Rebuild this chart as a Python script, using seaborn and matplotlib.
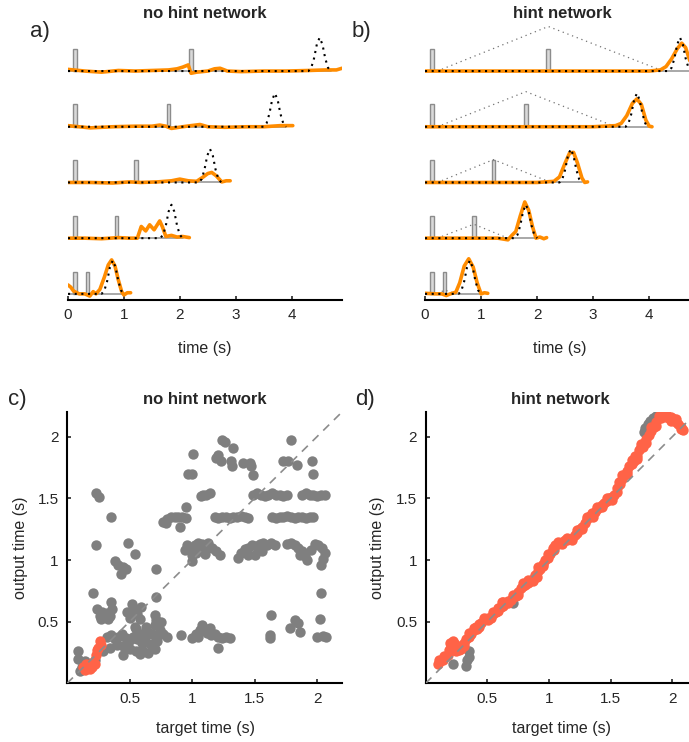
import seaborn as sns
import matplotlib.pyplot as plt

# ---------------- data ----------------
# trials (top to bottom), times in s
pulse1 = 0.12
pulse2 = [2.2, 1.8, 1.22, 0.87, 0.35]
target_peak_a = [4.5, 3.7, 2.54, 1.85, 0.8]
target_peak_b = [4.55, 3.78, 2.6, 1.8, 0.8]
# target bump profile (offset from peak, relative height)
bump_dt = [-0.2, -0.15, -0.1, -0.05, 0.0, 0.05, 0.1, 0.15, 0.2]
bump_h = [0.0, 0.1, 0.38, 0.8, 1.0, 0.8, 0.38, 0.1, 0.0]
target_amp = 0.6
pulse_h = 0.4

# hint signal (panel b): apex height at pulse2, end time
hint_start = 0.22
hint_apex = [0.8, 0.63, 0.41, 0.25, 0.07]
hint_end = [4.25, 3.4, 2.25, 1.48, 0.55]

# network outputs, panel a (no hint)
a_out_t = [
    [0, 0.3, 0.6, 0.9, 1.2, 1.5, 1.8, 1.95, 2.05, 2.15, 2.2, 2.3, 2.5, 2.62, 2.72, 2.85, 3.1, 3.5, 3.9, 4.3, 4.6, 4.8, 4.9],
    [0, 0.4, 0.8, 1.2, 1.5, 1.64, 1.75, 1.85, 2.05, 2.2, 2.36, 2.5, 2.8, 3.2, 3.5, 3.8, 4.02],
    [0, 0.4, 0.8, 1.1, 1.3, 1.6, 1.85, 2.0, 2.15, 2.3, 2.42, 2.5, 2.57, 2.65, 2.75, 2.83, 2.9],
    [0, 0.3, 0.6, 0.9, 1.1, 1.24, 1.31, 1.39, 1.46, 1.54, 1.64, 1.69, 1.75, 1.85, 1.95, 2.05, 2.17],
    [0, 0.05, 0.1, 0.2, 0.3, 0.39, 0.45, 0.5, 0.57, 0.65, 0.72, 0.78, 0.84, 0.9, 0.96, 1.0, 1.06, 1.12],
]
a_out_y = [
    [0.03, 0.0, -0.02, 0.01, 0.0, 0.01, 0.02, 0.04, 0.07, 0.11, -0.04, -0.02, 0.0, 0.04, 0.05, 0.0, -0.01, 0.0, 0.0, 0.01, 0.02, 0.02, 0.05],
    [0.02, -0.02, 0.0, 0.01, 0.01, 0.03, 0.01, -0.03, 0.0, 0.02, 0.04, 0.0, -0.01, 0.0, 0.0, 0.02, 0.02],
    [0.0, 0.0, -0.01, 0.01, 0.0, 0.01, 0.03, 0.06, 0.03, 0.02, 0.1, 0.16, 0.18, 0.12, 0.01, 0.03, 0.03],
    [0.0, 0.0, -0.01, 0.01, 0.0, 0.0, 0.21, 0.13, 0.24, 0.15, 0.31, 0.2, 0.03, 0.05, 0.02, 0.03, 0.01],
    [0.16, 0.12, 0.05, 0.0, 0.0, -0.04, 0.04, 0.0, 0.08, 0.3, 0.52, 0.61, 0.5, 0.25, 0.04, -0.02, 0.02, 0.02],
]

# network outputs, panel b (hint)
b_out_t = [
    [0, 0.5, 1.0, 1.5, 2.0, 2.5, 3.0, 3.5, 4.0, 4.2, 4.3, 4.4, 4.5, 4.58, 4.65, 4.72, 4.78],
    [0, 0.5, 1.0, 1.5, 2.0, 2.5, 3.0, 3.4, 3.5, 3.6, 3.7, 3.78, 3.86, 3.94, 4.0, 4.05],
    [0, 0.5, 1.0, 1.5, 2.0, 2.3, 2.4, 2.5, 2.58, 2.65, 2.72, 2.8, 2.85, 2.9],
    [0, 0.5, 1.0, 1.3, 1.48, 1.55, 1.62, 1.7, 1.78, 1.85, 1.92, 1.98, 2.05, 2.12, 2.17],
    [0, 0.2, 0.3, 0.38, 0.45, 0.55, 0.62, 0.7, 0.78, 0.86, 0.93, 1.0, 1.06, 1.12],
]
b_out_y = [
    [0, 0, 0, 0, 0, 0, 0, 0, 0.0, 0.02, 0.08, 0.22, 0.4, 0.5, 0.42, 0.2, 0.05],
    [0, 0, 0, 0, 0, 0, 0, 0.02, 0.06, 0.2, 0.42, 0.5, 0.4, 0.12, 0.01, 0.0],
    [0, 0, 0, 0, 0, 0.02, 0.1, 0.35, 0.53, 0.54, 0.35, 0.08, 0.0, 0.01],
    [0, 0, 0, 0, -0.03, 0.05, 0.12, 0.4, 0.65, 0.5, 0.2, 0.0, 0.02, -0.01, 0.01],
    [0.01, 0.0, 0.0, -0.03, 0.0, 0.03, 0.2, 0.5, 0.63, 0.48, 0.2, 0.0, 0.02, 0.01],
]

# scatter, panel c (no hint): target time vs output time
c_gray_x = [
    1.24, 1.26, 1.33, 1.79, 1.01, 1.19, 1.21, 1.23, 1.31, 1.32, 1.41, 1.46, 1.47, 1.49, 1.73, 1.77, 1.84, 1.96, 1.97, 0.97, 1.0,
    0.235, 0.256, 1.075, 1.09, 1.115, 1.14,
    1.49, 1.52, 1.55, 1.58, 1.61, 1.64, 1.67, 1.70, 1.73, 1.76,
    1.88, 1.91, 1.94, 1.97, 2.0, 2.03, 2.06,
    0.95, 0.355, 0.77, 0.8, 0.83, 0.86, 0.89, 0.92, 0.95, 0.79, 0.90,
    1.18, 1.21, 1.24, 1.27, 1.30, 1.33, 1.36, 1.39, 1.42, 1.45,
    1.64, 1.67, 1.70, 1.73, 1.76, 1.79, 1.82, 1.85, 1.88, 1.91, 1.94, 1.97,
    0.235, 0.49, 0.54, 0.38, 0.41, 0.45, 0.435, 0.47, 0.71,
    0.94, 0.96, 0.99, 1.02, 1.05, 1.08, 1.11, 1.13, 1.16, 1.19, 1.0, 1.03, 1.06, 1.1, 1.0, 1.22,
    1.37, 1.39, 1.42, 1.45, 1.48, 1.51, 1.54, 1.57, 1.6, 1.63, 1.66, 1.5, 1.45, 1.56,
    1.76, 1.79, 1.82, 1.85, 1.88, 1.9, 1.92, 1.95, 1.98, 2.01, 2.04, 2.06, 2.05, 2.03, 1.86,
    0.21, 0.715, 0.355,
    0.24, 0.26, 0.28, 0.3, 0.32, 0.34, 0.36, 0.27, 0.33,
    0.48, 0.5, 0.53, 0.56, 0.59, 0.58, 0.52,
    0.70, 0.715, 0.54,
    2.035, 1.635, 1.82, 1.85, 1.78, 1.86, 1.62, 1.62, 2.02, 2.0, 2.05, 2.075,
    0.915,
    1.0, 1.03, 1.06, 1.08, 1.1, 1.12, 1.15, 1.18, 1.21, 1.24, 1.27, 1.3, 1.05, 1.14,
    1.21,
    0.32, 0.35, 0.38, 0.41, 0.44, 0.47, 0.5, 0.53, 0.56, 0.59, 0.62, 0.65, 0.68, 0.71, 0.74, 0.77, 0.8,
    0.45, 0.5, 0.55, 0.6, 0.65, 0.7, 0.6, 0.66, 0.72, 0.55, 0.63, 0.7, 0.75, 0.4, 0.45, 0.58,
    0.09, 0.09, 0.14, 0.19, 0.22, 0.12, 0.1, 0.29, 0.34,
]
c_gray_y = [
    1.97, 1.96, 1.91, 1.97, 1.86, 1.83, 1.85, 1.80, 1.80, 1.76, 1.79, 1.79, 1.76, 1.69, 1.80, 1.80, 1.77, 1.80, 1.70, 1.70, 1.70,
    1.54, 1.51, 1.52, 1.53, 1.53, 1.54,
    1.53, 1.54, 1.53, 1.52, 1.53, 1.54, 1.53, 1.53, 1.52, 1.53,
    1.53, 1.54, 1.53, 1.53, 1.52, 1.53, 1.53,
    1.43, 1.35, 1.31, 1.33, 1.35, 1.35, 1.35, 1.35, 1.34, 1.30, 1.27,
    1.35, 1.34, 1.35, 1.35, 1.34, 1.35, 1.35, 1.36, 1.35, 1.34,
    1.35, 1.34, 1.35, 1.35, 1.36, 1.35, 1.34, 1.35, 1.35, 1.34, 1.35, 1.35,
    1.12, 1.14, 1.05, 0.99, 0.96, 0.94, 0.89, 0.925, 0.925,
    1.08, 1.12, 1.10, 1.12, 1.14, 1.13, 1.12, 1.14, 1.10, 1.07, 1.04, 1.06, 1.08, 1.05, 0.99, 1.04,
    1.02, 1.06, 1.09, 1.10, 1.12, 1.11, 1.13, 1.14, 1.12, 1.14, 1.12, 1.04, 1.04, 1.07,
    1.13, 1.14, 1.12, 1.10, 1.07, 1.03, 1.0, 1.08, 1.13, 1.12, 1.10, 1.06, 1.01, 0.96, 1.04,
    0.73, 0.70, 0.66,
    0.60, 0.55, 0.58, 0.54, 0.57, 0.55, 0.60, 0.52, 0.52,
    0.58, 0.53, 0.60, 0.56, 0.62, 0.52, 0.64,
    0.555, 0.51, 0.46,
    0.735, 0.555, 0.51, 0.49, 0.45, 0.42, 0.39, 0.37, 0.52, 0.38, 0.385, 0.375,
    0.39,
    0.37, 0.40, 0.43, 0.47, 0.44, 0.41, 0.39, 0.40, 0.38, 0.37, 0.38, 0.37, 0.38, 0.45,
    0.285,
    0.38, 0.39, 0.36, 0.38, 0.40, 0.37, 0.35, 0.38, 0.36, 0.40, 0.38, 0.42, 0.40, 0.38, 0.43, 0.40, 0.38,
    0.30, 0.28, 0.26, 0.27, 0.25, 0.28, 0.33, 0.32, 0.34, 0.44, 0.46, 0.47, 0.50, 0.31, 0.23, 0.24,
    0.26, 0.20, 0.18, 0.15, 0.19, 0.13, 0.10, 0.26, 0.29,
]
c_red_x = [0.26, 0.27, 0.25, 0.24, 0.23, 0.15, 0.17, 0.19, 0.21, 0.13, 0.18, 0.22, 0.14, 0.2]
c_red_y = [0.34, 0.31, 0.29, 0.27, 0.23, 0.16, 0.14, 0.15, 0.17, 0.13, 0.12, 0.16, 0.11, 0.13]

# scatter, panel d (hint)
d_gray_x = [1.78, 1.8, 1.82, 1.84, 1.87, 1.89, 1.77, 0.35, 0.35, 0.33, 0.225, 0.705, 0.34]
d_gray_y = [2.07, 2.1, 2.13, 2.15, 2.17, 2.16, 2.04, 0.26, 0.21, 0.14, 0.16, 0.65, 0.19]
d_red_x = [
    0.10, 0.12, 0.14, 0.16, 0.18, 0.20, 0.21, 0.23, 0.25, 0.27, 0.29, 0.31, 0.33, 0.35, 0.37, 0.39,
    0.41, 0.43, 0.45, 0.47, 0.49, 0.51, 0.53, 0.55, 0.57, 0.59, 0.61, 0.63, 0.65, 0.67, 0.69, 0.71,
    0.73, 0.75, 0.77, 0.79, 0.81, 0.83, 0.85, 0.87, 0.89, 0.91, 0.93, 0.95, 0.97, 0.99, 1.01, 1.03,
    1.05, 1.07, 1.09, 1.11, 1.13, 1.15, 1.17, 1.19, 1.21, 1.23, 1.25, 1.27, 1.29, 1.31, 1.33, 1.35,
    1.37, 1.39, 1.41, 1.43, 1.45, 1.47, 1.49, 1.51, 1.53, 1.55, 1.57, 1.59, 1.61, 1.63, 1.65, 1.67,
    1.69, 1.71, 1.73, 1.75, 1.77, 1.79, 1.81, 1.83, 1.85, 1.87, 1.89, 1.91, 1.93, 1.95, 1.97, 1.99,
    2.01, 2.03, 2.05, 2.07, 2.09,
    0.2, 0.22, 0.42, 0.62, 0.9, 1.04, 1.36, 1.58, 1.7, 1.76,
]
d_red_y = [
    0.16, 0.18, 0.19, 0.21, 0.23, 0.26, 0.31, 0.29, 0.26, 0.27, 0.28, 0.30, 0.36, 0.41, 0.40, 0.43,
    0.46, 0.48, 0.49, 0.51, 0.52, 0.53, 0.53, 0.56, 0.58, 0.61, 0.62, 0.63, 0.65, 0.67, 0.68, 0.70,
    0.71, 0.74, 0.77, 0.79, 0.80, 0.81, 0.83, 0.85, 0.88, 0.91, 0.93, 0.97, 1.00, 1.02, 1.05, 1.10,
    1.12, 1.13, 1.14, 1.15, 1.16, 1.16, 1.17, 1.18, 1.20, 1.22, 1.25, 1.27, 1.30, 1.33, 1.36, 1.38,
    1.39, 1.41, 1.43, 1.45, 1.46, 1.48, 1.50, 1.51, 1.53, 1.58, 1.63, 1.66, 1.69, 1.72, 1.76, 1.78,
    1.80, 1.84, 1.89, 1.92, 1.95, 1.98, 2.01, 2.05, 2.08, 2.12, 2.17, 2.18, 2.17, 2.16, 2.15, 2.16,
    2.14, 2.12, 2.10, 2.08, 2.055,
    0.33, 0.34, 0.44, 0.66, 0.86, 1.08, 1.35, 1.62, 1.84, 1.92,
]
# second row of hint-network points (edges of the thick band)
d_band_x = [
    0.11, 0.15, 0.19, 0.23, 0.27, 0.31, 0.35, 0.39, 0.43, 0.47, 0.51, 0.55, 0.59, 0.63, 0.67, 0.71,
    0.75, 0.79, 0.83, 0.87, 0.91, 0.95, 0.99, 1.03, 1.07, 1.11, 1.15, 1.19, 1.23, 1.27, 1.31, 1.35,
    1.39, 1.43, 1.47, 1.51, 1.55, 1.59, 1.63, 1.67, 1.71, 1.75, 1.79, 1.83, 1.87, 1.91, 1.95, 1.99,
    2.03, 2.07,
]
d_band_y = [
    0.19, 0.22, 0.27, 0.33, 0.30, 0.33, 0.38, 0.45, 0.46, 0.53, 0.51, 0.58, 0.59, 0.66, 0.65, 0.72,
    0.72, 0.81, 0.84, 0.83, 0.94, 0.95, 1.05, 1.08, 1.15, 1.13, 1.18, 1.16, 1.24, 1.25, 1.35, 1.36,
    1.43, 1.43, 1.50, 1.49, 1.55, 1.69, 1.70, 1.81, 1.82, 1.94, 1.95, 2.08, 2.09, 2.15, 2.18, 2.13,
    2.14, 2.06,
]

# ---------------- style ----------------
sns.set_theme(style="white")
plt.rcParams["font.family"] = ["Liberation Sans", "DejaVu Sans"]
plt.rcParams["axes.linewidth"] = 1.5
TXT = "#262626"
ORANGE = "#ff8c00"
GRAY_DOT = "#7f7f7f"
RED_DOT = "#ff6347"
DOT_S = 56

fig = plt.figure(figsize=(6.89, 7.42), dpi=100)
W, H = 689.0, 742.0


def px_axes(left, top, right, bottom):
    return fig.add_axes([left / W, 1 - bottom / H, (right - left) / W, (bottom - top) / H])


ax_a = px_axes(68, 23.7, 342, 300)
ax_b = px_axes(425, 23.7, 689, 300)
ax_c = px_axes(67, 412, 342, 683.4)
ax_d = px_axes(425.5, 412, 697, 683.4)


def draw_traces(ax, peaks, out_t, out_y, hint):
    n = len(peaks)
    for i in range(n):
        off = n - 1 - i
        pk = peaks[i]
        # input baseline and pulses
        ax.plot([0, pk + bump_dt[-1]], [off, off], color="0.6", lw=1.2, zorder=1)
        ax.bar([pulse1, pulse2[i]], [pulse_h, pulse_h], bottom=off, width=0.065,
               color="0.85", edgecolor="0.55", linewidth=1.0, zorder=2)
        if hint:
            ax.plot([hint_start, pulse2[i], hint_end[i]], [off, off + hint_apex[i], off],
                    color="0.45", lw=0.9, linestyle=(0, (1, 3)), zorder=2)
        # network output
        sns.lineplot(x=out_t[i], y=[off + v for v in out_y[i]], ax=ax, color=ORANGE,
                     lw=2.6, estimator=None, sort=False, zorder=3)
        # target
        tx = [0] + [pk + d for d in bump_dt]
        ty = [off] + [off + target_amp * h for h in bump_h]
        ax.plot(tx, ty, color="black", lw=1.5, linestyle=(0, (1, 2.2)), zorder=4)
    ax.set_ylim(-0.11, 4.85)
    ax.set_yticks([])
    ax.set_xticks([0, 1, 2, 3, 4])
    for s in ["left", "right", "top"]:
        ax.spines[s].set_visible(False)
    ax.spines["bottom"].set_color("black")
    ax.tick_params(axis="x", direction="in", length=3, width=1.2, labelsize=11,
                   labelcolor=TXT, pad=6, bottom=True)
    ax.set_xlabel("")
    ax.set_ylabel("")
    ax.patch.set_alpha(0)


draw_traces(ax_a, target_peak_a, a_out_t, a_out_y, hint=False)
ax_a.set_xlim(0, 4.9)
draw_traces(ax_b, target_peak_b, b_out_t, b_out_y, hint=True)
ax_b.set_xlim(0, 4.71)


def draw_scatter(ax, gx, gy, rx, ry):
    sns.scatterplot(x=gx, y=gy, ax=ax, color=GRAY_DOT, s=DOT_S, linewidth=0, zorder=2)
    sns.scatterplot(x=rx, y=ry, ax=ax, color=RED_DOT, s=DOT_S, linewidth=0, zorder=3)
    ax.plot([0, 2.2], [0, 2.2], color="0.55", lw=1.2, linestyle=(0, (5, 4)), zorder=4)
    ax.set_xlim(0, 2.2)
    ax.set_ylim(0, 2.2)
    ax.set_xticks([0.5, 1, 1.5, 2])
    ax.set_yticks([0.5, 1, 1.5, 2])
    ax.set_xticklabels(["0.5", "1", "1.5", "2"])
    ax.set_yticklabels(["0.5", "1", "1.5", "2"])
    for s in ["right", "top"]:
        ax.spines[s].set_visible(False)
    for s in ["left", "bottom"]:
        ax.spines[s].set_color("black")
    ax.tick_params(direction="in", length=3, width=1.2, labelsize=11, labelcolor=TXT,
                   pad=6, bottom=True, left=True)
    ax.set_xlabel("")
    ax.set_ylabel("")
    ax.patch.set_alpha(0)


draw_scatter(ax_c, c_gray_x, c_gray_y, c_red_x, c_red_y)
draw_scatter(ax_d, d_gray_x, d_gray_y, d_red_x + d_band_x, d_red_y + d_band_y)


def ftext(x, y, s, **kw):
    fig.text(x / W, 1 - y / H, s, color=TXT, **kw)


# panel letters
ftext(30, 32, "a)", fontsize=16, va="center", ha="left")
ftext(352, 31, "b)", fontsize=16, va="center", ha="left")
ftext(8, 399, "c)", fontsize=16, va="center", ha="left")
ftext(355, 399, "d)", fontsize=16, va="center", ha="left")

# titles
ftext(205, 13, "no hint network", fontsize=12, fontweight="bold", ha="center", va="center")
ftext(562, 14, "hint network", fontsize=12, fontweight="bold", ha="center", va="center")
ftext(205, 399, "no hint network", fontsize=12, fontweight="bold", ha="center", va="center")
ftext(560, 399, "hint network", fontsize=12, fontweight="bold", ha="center", va="center")

# axis labels
ftext(205, 349, "time (s)", fontsize=11.5, ha="center", va="center")
ftext(560, 349, "time (s)", fontsize=11.5, ha="center", va="center")
ftext(205, 729, "target time (s)", fontsize=11.5, ha="center", va="center")
ftext(562, 729, "target time (s)", fontsize=11.5, ha="center", va="center")
ftext(21, 548, "output time (s)", fontsize=11.5, ha="center", va="center", rotation=90)
ftext(378, 548, "output time (s)", fontsize=11.5, ha="center", va="center", rotation=90)

fig.savefig("out.png", dpi=100)
